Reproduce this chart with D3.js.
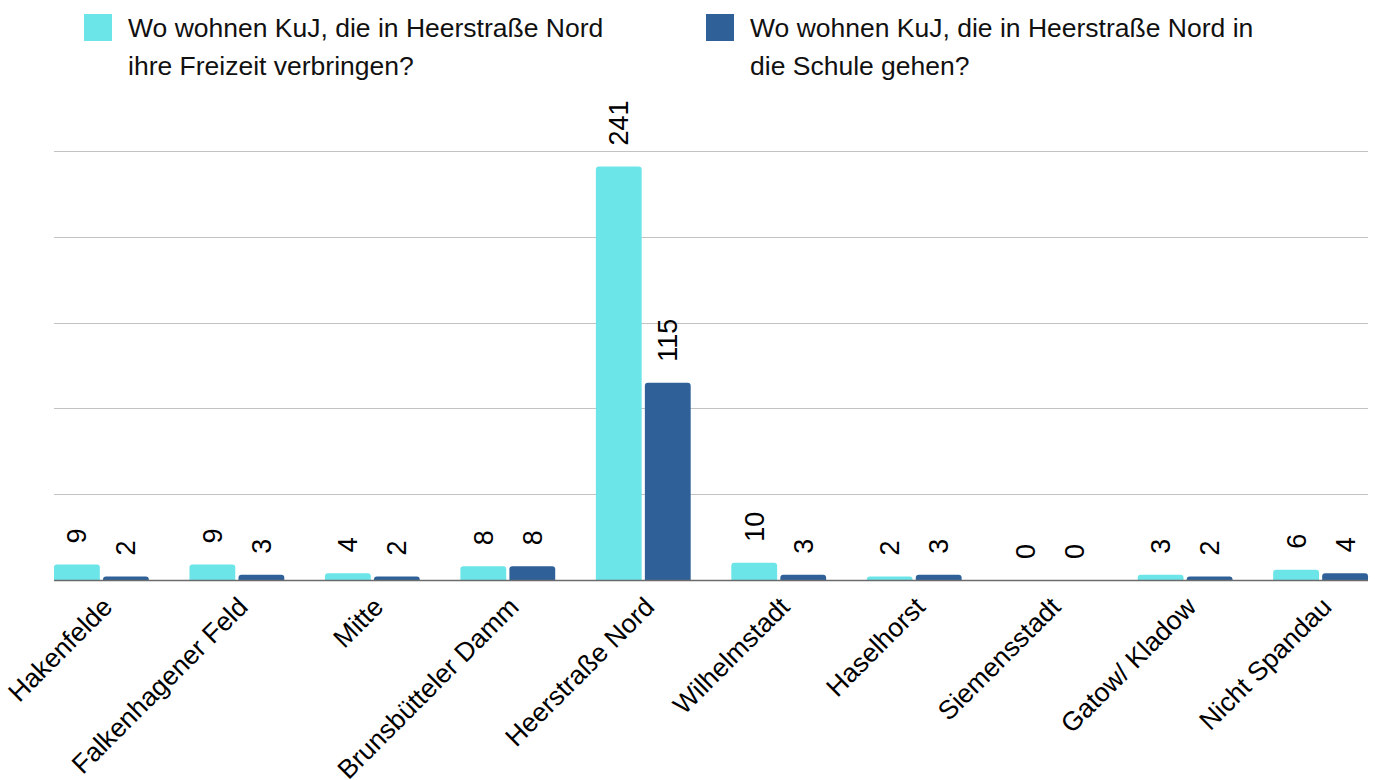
<!DOCTYPE html>
<html><head><meta charset="utf-8">
<script src="https://cdn.jsdelivr.net/npm/d3@7"></script>
<style>body{margin:0;background:#fff;}svg{display:block;font-family:"Liberation Sans",Arial,sans-serif;}</style>
</head><body>
<svg id="chart" width="1375" height="780"></svg>
<script>
const categories = ["Hakenfelde","Falkenhagener Feld","Mitte","Brunsbütteler Damm","Heerstraße Nord","Wilhelmstadt","Haselhorst","Siemensstadt","Gatow/ Kladow","Nicht Spandau"];
const freizeit = [9,9,4,8,241,10,2,0,3,6];
const schule = [2,3,2,8,115,3,3,0,2,4];
const seriesNames = ["Wo wohnen KuJ, die in Heerstraße Nord|ihre Freizeit verbringen?","Wo wohnen KuJ, die in Heerstraße Nord in|die Schule gehen?"];
const colors = ["#6ce5e8","#2f6098"];
const yTicks = [0,50,100,150,200,250];

const svg = d3.select("#chart");
const m = {left:54, right:1368, top:151, bottom:580};
const x = d3.scaleBand().domain(categories).range([m.left, m.right]).paddingInner(0.3).paddingOuter(0);
const x1 = d3.scaleBand().domain([0,1]).range([0, x.bandwidth()]).paddingInner(0.065);
const y = d3.scaleLinear().domain([0,250]).range([m.bottom, m.top]);

// gridlines
svg.append("g").selectAll("line").data(yTicks.filter(d=>d>0)).join("line")
  .attr("x1", m.left).attr("x2", m.right)
  .attr("y1", d=>Math.round(y(d))+0.5).attr("y2", d=>Math.round(y(d))+0.5)
  .attr("stroke","#c3c3c3").attr("stroke-width",1);

function barPath(x0, w, y0, yb, r){
  const h = yb - y0;
  if (h <= 0) return "";
  r = Math.min(r, h, w/2);
  return `M${x0},${yb}V${y0+r}Q${x0},${y0} ${x0+r},${y0}H${x0+w-r}Q${x0+w},${y0} ${x0+w},${y0+r}V${yb}Z`;
}

const data = categories.map((c,i)=>({c, vals:[freizeit[i], schule[i]]}));
const groups = svg.append("g").selectAll("g").data(data).join("g")
  .attr("transform", d=>`translate(${x(d.c)},0)`);
groups.selectAll("path").data(d=>d.vals.map((v,k)=>({v,k}))).join("path")
  .attr("d", d=>barPath(x1(d.k), x1.bandwidth(), y(d.v), m.bottom, 3))
  .attr("fill", d=>colors[d.k]);
groups.selectAll("text").data(d=>d.vals.map((v,k)=>({v,k}))).join("text")
  .attr("transform", d=>`translate(${x1(d.k)+x1.bandwidth()/2},${y(d.v)-21}) rotate(-90)`)
  .attr("dy","0.35em")
  .attr("font-size",27).attr("fill","#000")
  .text(d=>d.v);

// baseline axis
svg.append("line").attr("x1",m.left).attr("x2",m.right)
  .attr("y1",m.bottom+0.5).attr("y2",m.bottom+0.5)
  .attr("stroke","#6b6b6b").attr("stroke-width",1.5);

// x-axis labels
const xAxis = d3.axisBottom(x).tickSize(0).tickPadding(0);
const gx = svg.append("g").attr("transform",`translate(0,${m.bottom})`).call(xAxis);
gx.select(".domain").remove();
gx.selectAll("text")
  .attr("font-size",26.5).attr("font-family","Liberation Sans, Arial, sans-serif").attr("fill","#000")
  .attr("text-anchor","end")
  .attr("dy","0.35em").attr("y",0)
  .attr("transform","translate(6,22) rotate(-45)");

// legend
const legX = [84, 706];
const lg = svg.append("g").selectAll("g").data(seriesNames).join("g")
  .attr("transform",(d,i)=>`translate(${legX[i]},0)`);
lg.append("rect").attr("x",0).attr("y",14).attr("width",28).attr("height",27).attr("fill",(d,i)=>colors[i]);
lg.append("text").attr("font-size",26.5).attr("fill","#111")
  .selectAll("tspan").data(d=>d.split("|")).join("tspan")
  .attr("x",44).attr("y",(d,j)=>37+j*38).text(d=>d);
</script>
</body></html>
